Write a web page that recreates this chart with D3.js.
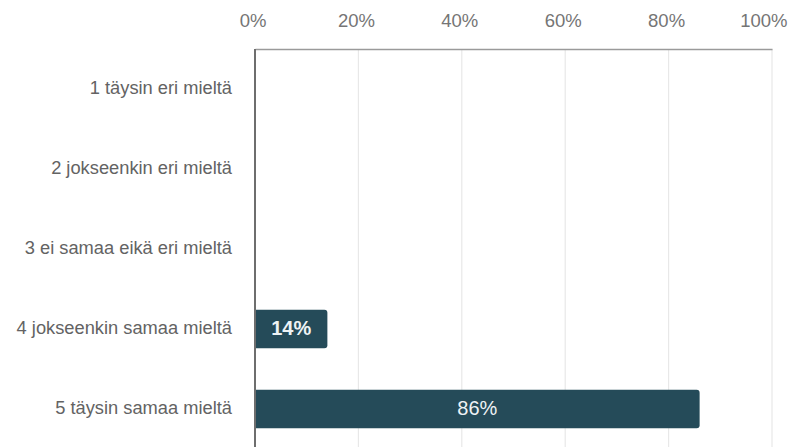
<!DOCTYPE html>
<html>
<head>
<meta charset="utf-8">
<script src="https://cdn.jsdelivr.net/npm/d3@7"></script>
<style>
  html, body { margin: 0; padding: 0; background: #fff; }
  svg { display: block; }
  text { font-family: "Liberation Sans", Arial, sans-serif; }
</style>
</head>
<body>
<svg id="chart" width="789" height="447"></svg>
<script>
const categories = [
  "1 täysin eri mieltä",
  "2 jokseenkin eri mieltä",
  "3 ei samaa eikä eri mieltä",
  "4 jokseenkin samaa mieltä",
  "5 täysin samaa mieltä"
];
const values = [0, 0, 0, 14, 86];
const tickValues = [0, 20, 40, 60, 80, 100];
const tickLabels = ["0%", "20%", "40%", "60%", "80%", "100%"];

(function () {
const svg = d3.select("#chart");
const W = 789, H = 447;
const mLeft = 255, mRight = 772, mTop = 49, mBottom = 449;

const x = d3.scaleLinear().domain([0, 100]).range([mLeft, mRight]);
const y = d3.scaleBand().domain(categories).range([mTop, mBottom])
  .paddingInner(0.52).paddingOuter(0.26);

// gridlines
svg.append("g").selectAll("line")
  .data(tickValues.filter(d => d > 0))
  .join("line")
  .attr("x1", d => x(d)).attr("x2", d => x(d))
  .attr("y1", mTop).attr("y2", H)
  .attr("stroke", "#e8e8e8").attr("stroke-width", 1.2);

// top axis
const axis = d3.axisTop(x).tickValues(tickValues)
  .tickFormat((d, i) => tickLabels[i]).tickSize(0).tickPadding(0);
const ga = svg.append("g").attr("transform", `translate(0,${mTop})`).call(axis);
ga.select(".domain").attr("stroke", "#9a9a9a").attr("stroke-width", 1.5);
ga.selectAll("text")
  .attr("y", 27 - mTop)
  .attr("dy", null)
  .attr("fill", "#757575")
  .style("font-size", "18.5px")
  .style("font-family", "Liberation Sans, Arial, sans-serif")
  .each(function (d) {
    // keep the label inside the page, shift slightly as in the reference
    const bb = this.getBBox();
    const cx = x(d) - 2.5;
    let shift = -2.5;
    if (cx + bb.width / 2 > W - 2) shift = (W - 2 - bb.width / 2) - x(d);
    d3.select(this).attr("x", shift);
  });

// bars
const radius = 3;
function barPath(x0, x1, y0, h, r) {
  const w = x1 - x0;
  if (w <= 0) return "";
  r = Math.min(r, w);
  return `M${x0},${y0} H${x1 - r} Q${x1},${y0} ${x1},${y0 + r} V${y0 + h - r} Q${x1},${y0 + h} ${x1 - r},${y0 + h} H${x0} Z`;
}
const data = categories.map((c, i) => ({ c, v: values[i] }));
svg.append("g").selectAll("path")
  .data(data.filter(d => d.v > 0))
  .join("path")
  .attr("d", d => barPath(x(0), x(d.v), y(d.c), y.bandwidth(), radius))
  .attr("fill", "#254b59");

// bar labels
svg.append("g").selectAll("text")
  .data(data.filter(d => d.v > 0))
  .join("text")
  .attr("x", d => (x(0) + x(d.v)) / 2)
  .attr("y", d => y(d.c) + y.bandwidth() / 2 + 6)
  .attr("text-anchor", "middle")
  .attr("fill", "#eef3f5")
  .style("font-size", "20px")
  .style("font-weight", d => d.v < 50 ? "bold" : "normal")
  .text(d => d.v + "%");

// left axis line
svg.append("line")
  .attr("x1", x(0)).attr("x2", x(0))
  .attr("y1", mTop).attr("y2", H)
  .attr("stroke", "#6e6e6e").attr("stroke-width", 2);

// category labels
svg.append("g").selectAll("text")
  .data(categories)
  .join("text")
  .attr("x", 232)
  .attr("y", d => y(d) + y.bandwidth() / 2 + 5)
  .attr("text-anchor", "end")
  .attr("fill", "#636363")
  .style("font-size", "18.3px")
  .text(d => d);
})();
</script>
</body>
</html>
